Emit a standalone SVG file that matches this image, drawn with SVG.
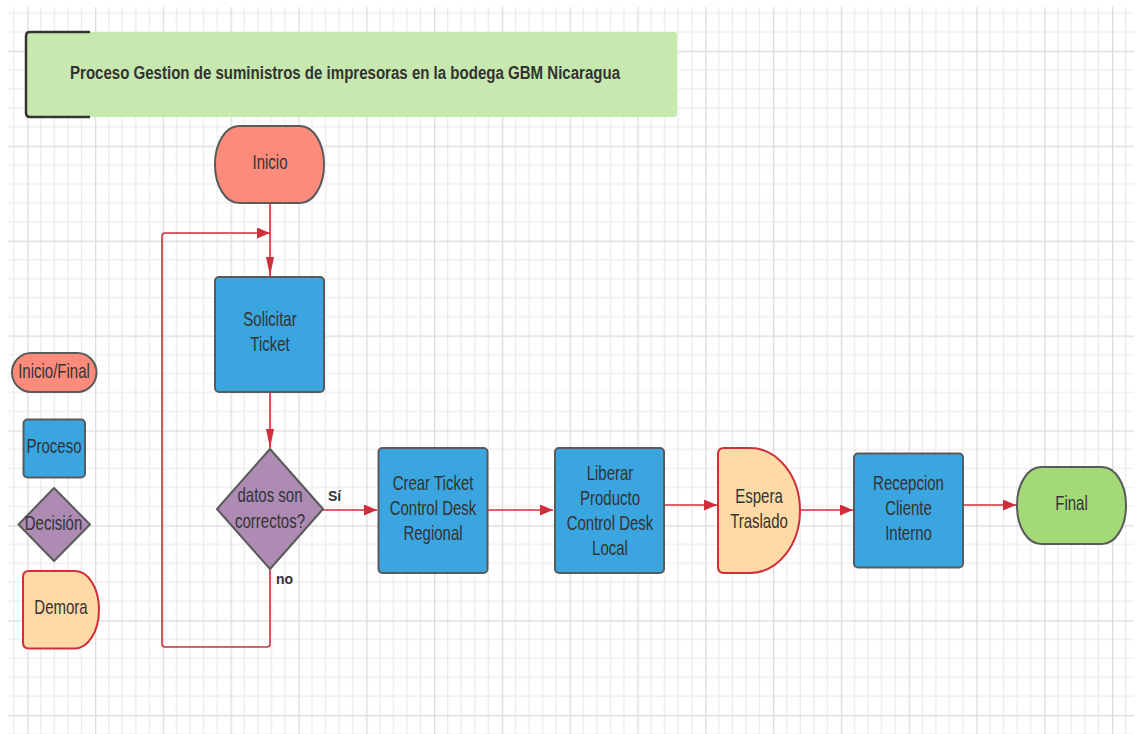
<svg xmlns="http://www.w3.org/2000/svg" width="1136" height="734" viewBox="0 0 1136 734">
<defs>
<pattern id="grid" patternUnits="userSpaceOnUse" x="27.2" y="50.8" width="67.8" height="94.9">
<rect x="0" y="0" width="67.8" height="94.9" fill="#ffffff"/>
<g fill="#ebebeb">
<rect x="13.06" y="0" width="1.2" height="94.9"/>
<rect x="26.62" y="0" width="1.2" height="94.9"/>
<rect x="40.18" y="0" width="1.2" height="94.9"/>
<rect x="53.74" y="0" width="1.2" height="94.9"/>
<rect x="0" y="18.48" width="67.8" height="1.2"/>
<rect x="0" y="37.46" width="67.8" height="1.2"/>
<rect x="0" y="56.44" width="67.8" height="1.2"/>
<rect x="0" y="75.42" width="67.8" height="1.2"/>
</g>
<g fill="#dcdcdc">
<rect x="0" y="0" width="1.3" height="94.9"/>
<rect x="0" y="0" width="67.8" height="1.3"/>
</g>
</pattern>
<marker id="ah" markerUnits="userSpaceOnUse" viewBox="0 0 13 11" markerWidth="13" markerHeight="11" refX="13" refY="5.5" orient="auto">
<path d="M0,0 L13,5.5 L0,11 Z" fill="#cf2e3a"/>
</marker>
<marker id="av" markerUnits="userSpaceOnUse" viewBox="0 0 19 8" markerWidth="19" markerHeight="8" refX="19" refY="4" orient="auto">
<path d="M0,0 L19,4 L0,8 Z" fill="#cf2e3a"/>
</marker>
<style>
.t{font-family:"Liberation Sans",Arial,sans-serif;font-size:20px;fill:#333333;text-anchor:middle}
.b{font-family:"Liberation Sans",Arial,sans-serif;font-size:14px;font-weight:bold;fill:#333333}
.term{stroke:#5a5a5a;stroke-width:2}
.proc{fill:#3aa5de;stroke:#5a5a5a;stroke-width:2}
.dec{fill:#ad8bb3;stroke:#5a5a5a;stroke-width:2}
.delay{fill:#ffd9a6;stroke:#cf2e3a;stroke-width:2}
.c{fill:none;stroke:#cf2e3a;stroke-width:1.6}
</style>
</defs>
<rect x="0" y="0" width="1136" height="734" fill="#ffffff"/>
<rect x="8" y="7" width="1126" height="727" fill="url(#grid)"/>

<g id="title">
<rect x="26" y="32" width="651" height="85" rx="3" fill="#c7e8ae"/>
<path d="M90,32 H30 Q26,32 26,36 V113 Q26,117 30,117 H90" fill="none" stroke="#333333" stroke-width="2.5"/>
<text x="70" y="78.5" font-family="Liberation Sans, Arial, sans-serif" font-size="18" font-weight="bold" fill="#333333" textLength="550" lengthAdjust="spacingAndGlyphs">Proceso Gestion de suministros de impresoras en la bodega GBM Nicaragua</text>
</g>

<g id="connectors">
<path class="c" d="M270,203 V276" marker-end="url(#av)"/>
<path class="c" d="M270,569 V644 Q270,647 267,647 H165 Q162,647 162,644 V236 Q162,233 165,233 H270" marker-end="url(#ah)"/>
<path class="c" d="M270,392 V448" marker-end="url(#av)"/>
<path class="c" d="M323,510 H377" marker-end="url(#ah)"/>
<path class="c" d="M487,510 H553" marker-end="url(#ah)"/>
<path class="c" d="M664,505 H717" marker-end="url(#ah)"/>
<path class="c" d="M800,510 H853" marker-end="url(#ah)"/>
<path class="c" d="M963,505 H1016" marker-end="url(#ah)"/>
<text class="b" x="328" y="501">Sí</text>
<text class="b" x="276" y="584">no</text>
</g>

<g id="inicio">
<rect class="term" x="215" y="126" width="109" height="77" rx="24" ry="38" fill="#fd8b7b"/>
<g transform="translate(270 0) scale(0.75 1)"><text class="t" x="0" y="169.5">Inicio</text></g>
</g>

<g id="solicitar">
<rect class="proc" x="215" y="277" width="109" height="115" rx="4"/>
<g transform="translate(270 0) scale(0.75 1)"><text class="t" x="0" y="326">Solicitar</text><text class="t" x="0" y="351">Ticket</text></g>
</g>

<g id="decision">
<path class="dec" d="M270,449 L323,509 L270,569 L217,509 Z" stroke-linejoin="round"/>
<g transform="translate(270 0) scale(0.75 1)"><text class="t" x="0" y="502.5">datos son</text><text class="t" x="0" y="528">correctos?</text></g>
</g>

<g id="crear">
<rect class="proc" x="378.5" y="448" width="109" height="125" rx="4"/>
<g transform="translate(433 0) scale(0.75 1)"><text class="t" x="0" y="490">Crear Ticket</text><text class="t" x="0" y="515">Control Desk</text><text class="t" x="0" y="540">Regional</text></g>
</g>

<g id="liberar">
<rect class="proc" x="555" y="448" width="109" height="125" rx="4"/>
<g transform="translate(610 0) scale(0.75 1)"><text class="t" x="0" y="480">Liberar</text><text class="t" x="0" y="505">Producto</text><text class="t" x="0" y="530">Control Desk</text><text class="t" x="0" y="555">Local</text></g>
</g>

<g id="espera">
<path class="delay" d="M724,448 H750 A50,62.5 0 0 1 750,573 H724 Q718,573 718,567 V454 Q718,448 724,448 Z"/>
<g transform="translate(759 0) scale(0.75 1)"><text class="t" x="0" y="503">Espera</text><text class="t" x="0" y="528">Traslado</text></g>
</g>

<g id="recepcion">
<rect class="proc" x="854" y="453.5" width="109" height="114" rx="4"/>
<g transform="translate(908.5 0) scale(0.75 1)"><text class="t" x="0" y="490">Recepcion</text><text class="t" x="0" y="515.5">Cliente</text><text class="t" x="0" y="540.5">Interno</text></g>
</g>

<g id="final">
<rect class="term" x="1017" y="467" width="109" height="77" rx="24" ry="38" fill="#a3d977"/>
<g transform="translate(1071.5 0) scale(0.75 1)"><text class="t" x="0" y="510.5">Final</text></g>
</g>

<g id="legend-inicio-final">
<rect class="term" x="12" y="353" width="84.5" height="39" rx="19" ry="19.5" fill="#fd8b7b"/>
<g transform="translate(54 0) scale(0.75 1)"><text class="t" x="0" y="378.5">Inicio/Final</text></g>
</g>

<g id="legend-proceso">
<rect class="proc" x="23.5" y="419.5" width="61.5" height="58" rx="4"/>
<g transform="translate(54 0) scale(0.75 1)"><text class="t" x="0" y="453.5">Proceso</text></g>
</g>

<g id="legend-decision">
<path class="dec" d="M54,488 L90,524.5 L54,561 L18.5,524.5 Z" stroke-linejoin="round"/>
<g transform="translate(53.5 0) scale(0.75 1)"><text class="t" x="0" y="530">Decisión</text></g>
</g>

<g id="legend-demora">
<path class="delay" d="M29,571 H75 A24,38.7 0 0 1 75,648.4 H29 Q23,648.4 23,642.4 V577 Q23,571 29,571 Z"/>
<g transform="translate(61 0) scale(0.75 1)"><text class="t" x="0" y="614">Demora</text></g>
</g>
</svg>
